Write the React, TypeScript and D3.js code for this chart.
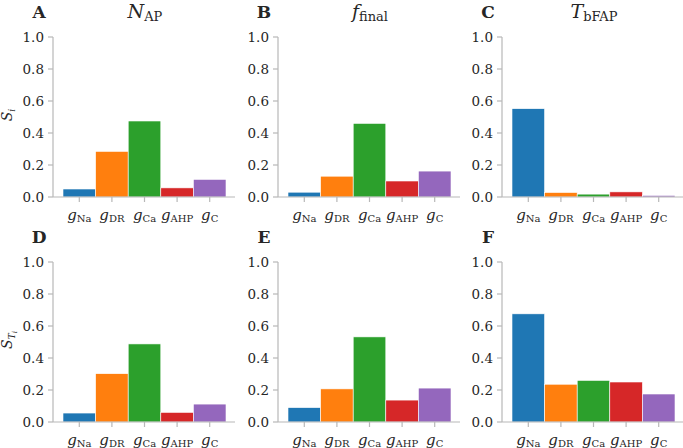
import React from "react";
import * as d3 from "d3";

const categories = ["Na", "DR", "Ca", "AHP", "C"];
const colors = ["#1f77b4", "#ff7f0e", "#2ca02c", "#d62728", "#9467bd"];
const yTicks = [0, 0.2, 0.4, 0.6, 0.8, 1.0];

const valuesA = [0.05, 0.285, 0.475, 0.057, 0.11];
const valuesB = [0.03, 0.13, 0.46, 0.1, 0.162];
const valuesC = [0.552, 0.028, 0.018, 0.032, 0.01];
const valuesD = [0.056, 0.302, 0.488, 0.06, 0.112];
const valuesE = [0.09, 0.207, 0.532, 0.137, 0.212];
const valuesF = [0.676, 0.236, 0.26, 0.25, 0.175];

const letters = ["A", "B", "C", "D", "E", "F"];
const titleMain = ["N", "f", "T"];
const titleSub = ["AP", "final", "bFAP"];
const panelValues = [valuesA, valuesB, valuesC, valuesD, valuesE, valuesF];

const W = 683;
const H = 448;
const colSpine = [53, 278, 502];
const rowTop = [37, 262];
const plotH = 160;
const axisLen = 182;
const axisColor = "#b8b8b8";
const textColor = "#262626";
const serif = "'DejaVu Serif', serif";

function Panel({ idx }: { idx: number }) {
  const col = idx % 3;
  const row = Math.floor(idx / 3);
  const x0 = colSpine[col];
  const top = rowTop[row];
  const y = d3.scaleLinear().domain([0, 1]).range([top + plotH, top]);
  const x = d3
    .scaleBand<string>()
    .domain(categories)
    .range([x0 + 10, x0 + 173])
    .padding(0);
  const vals = panelValues[idx];
  const base = y(0);
  return (
    <g>
      {categories.map((c, i) => (
        <rect
          key={c}
          x={x(c)!}
          y={y(vals[i])}
          width={x.bandwidth()}
          height={base - y(vals[i])}
          fill={colors[i]}
          stroke="#ffffff"
          strokeWidth={0.6}
        />
      ))}
      <line x1={x0} x2={x0} y1={y(1)} y2={y(0)} stroke={axisColor} strokeWidth={1.2} />
      {yTicks.map((t) => (
        <g key={t}>
          <line x1={x0 - 5} x2={x0} y1={y(t)} y2={y(t)} stroke={axisColor} strokeWidth={1.2} />
          <text
            x={x0 - 9}
            y={y(t)}
            dy="0.35em"
            textAnchor="end"
            fontSize={13.5}
            fontFamily={serif}
            fill={textColor}
          >
            {t.toFixed(1)}
          </text>
        </g>
      ))}
      <line x1={x0} x2={x0 + axisLen} y1={base} y2={base} stroke={axisColor} strokeWidth={1.2} />
      {categories.map((c) => {
        const cx = x(c)! + x.bandwidth() / 2;
        return (
          <g key={c}>
            <line x1={cx} x2={cx} y1={base} y2={base + 5} stroke={axisColor} strokeWidth={1.2} />
            <text
              x={cx}
              y={base + 23}
              textAnchor="middle"
              fontFamily={serif}
              fill={textColor}
            >
              <tspan fontStyle="italic" fontSize={15}>g</tspan>
              <tspan fontSize={10} dy={2}>{c}</tspan>
            </text>
          </g>
        );
      })}
      <text
        x={x0 - 14}
        y={top - 19}
        textAnchor="middle"
        fontWeight="bold"
        fontSize={17}
        fontFamily={serif}
        fill={textColor}
      >
        {letters[idx]}
      </text>
      {row === 0 && (
        <text
          x={x0 + 92}
          y={top - 19}
          textAnchor="middle"
          fontFamily={serif}
          fill={textColor}
        >
          <tspan fontStyle="italic" fontSize={19}>{titleMain[col]}</tspan>
          <tspan fontSize={13} dy={3}>{titleSub[col]}</tspan>
        </text>
      )}
      {col === 0 && (
        <text
          transform={`translate(${12},${top + 78}) rotate(-90)`}
          textAnchor="middle"
          fontFamily={serif}
          fill={textColor}
        >
          <tspan fontStyle="italic" fontSize={14}>S</tspan>
          {row === 0 ? (
            <tspan fontStyle="italic" fontSize={9} dy={3}>i</tspan>
          ) : (
            <>
              <tspan fontStyle="italic" fontSize={9} dy={3}>T</tspan>
              <tspan fontStyle="italic" fontSize={7} dy={2}>i</tspan>
            </>
          )}
        </text>
      )}
    </g>
  );
}

export default function App() {
  return (
    <svg width={W} height={H} style={{ position: "absolute", left: 0, top: 0, background: "#fff" }}>
      <rect width={W} height={H} fill="#ffffff" />
      {panelValues.map((_, i) => (
        <Panel key={i} idx={i} />
      ))}
    </svg>
  );
}
